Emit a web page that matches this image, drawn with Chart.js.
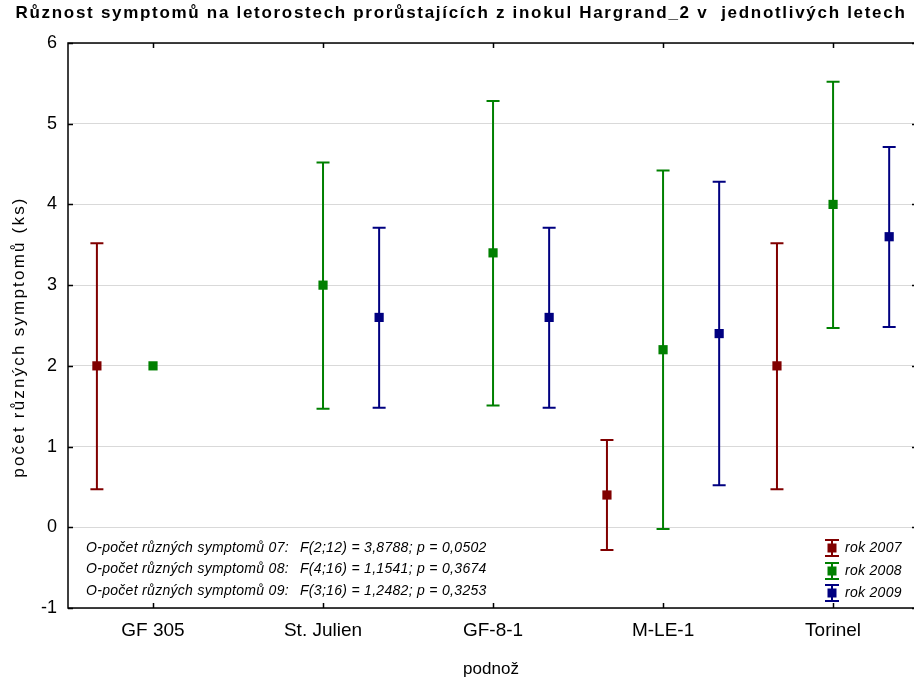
<!DOCTYPE html>
<html>
<head>
<meta charset="utf-8">
<script src="https://cdn.jsdelivr.net/npm/chart.js@4.4.1/dist/chart.umd.min.js"></script>
<style>
  html, body { margin: 0; padding: 0; background: #fff; }
  #wrap { width: 914px; height: 684px; }
</style>
</head>
<body>
<div id="wrap"><canvas id="chart"></canvas></div>
<script>
// podnože (kategorie osy x)
const rootstocks = ['GF 305', 'St. Julien', 'GF-8-1', 'M-LE-1', 'Torinel'];
const yearLabels = ['rok 2007', 'rok 2008', 'rok 2009'];
const yearColors = ['#800000', '#008000', '#000080'];

// průměry a meze intervalů (null = bez hodnoty)
const mean07 = [2.0, null, null, 0.4, 2.0];
const low07  = [0.47, null, null, -0.28, 0.47];
const high07 = [3.52, null, null, 1.08, 3.52];

const mean08 = [2.0, 3.0, 3.4, 2.2, 4.0];
const low08  = [null, 1.47, 1.51, -0.02, 2.47];
const high08 = [null, 4.52, 5.28, 4.42, 5.52];

const mean09 = [null, 2.6, 2.6, 2.4, 3.6];
const low09  = [null, 1.48, 1.48, 0.52, 2.48];
const high09 = [null, 3.71, 3.71, 4.28, 4.71];

const yTicks = [-1, 0, 1, 2, 3, 4, 5, 6];

const chartTitle = 'Různost symptomů na letorostech prorůstajících z inokul Hargrand_2 v  jednotlivých letech';
const yTitle = 'počet různých symptomů (ks)';
const xTitle = 'podnož';

const anovaNames = [
  'O-počet různých symptomů 07:',
  'O-počet různých symptomů 08:',
  'O-počet různých symptomů 09:',
];
const anovaStats = [
  'F(2;12) = 3,8788; p = 0,0502',
  'F(4;16) = 1,1541; p = 0,3674',
  'F(3;16) = 1,2482; p = 0,3253',
];

const FONT = '"Liberation Sans", Arial, sans-serif';
const series = [
  [mean07, low07, high07],
  [mean08, low08, high08],
  [mean09, low09, high09],
];

// posun roků vedle sebe v rámci jedné podnože
const groupShift = 0.33;

const datasets = series.map(([mean, lo, hi], s) => {
  const pts = [];
  mean.forEach((v, i) => {
    if (v === null) return;
    pts.push({ x: i + (s - 1) * groupShift, y: v, lo: lo[i], hi: hi[i] });
  });
  return {
    label: yearLabels[s],
    data: pts,
    borderColor: yearColors[s],
    backgroundColor: yearColors[s],
    pointStyle: 'rect',
    pointRadius: 6.5,
    pointHoverRadius: 6.5,
    pointBorderWidth: 0,
    showLine: false,
  };
});

// chybové úsečky pod body
const errorBars = {
  id: 'errorBars',
  beforeDatasetsDraw(chart) {
    const { ctx, scales: { x, y } } = chart;
    ctx.save();
    ctx.lineWidth = 2;
    chart.data.datasets.forEach(ds => {
      ctx.strokeStyle = ds.borderColor;
      ds.data.forEach(p => {
        if (p.lo == null || p.hi == null) return;
        const px = x.getPixelForValue(p.x);
        const y1 = y.getPixelForValue(p.lo);
        const y2 = y.getPixelForValue(p.hi);
        ctx.beginPath();
        ctx.moveTo(px, y1); ctx.lineTo(px, y2);
        ctx.moveTo(px - 6.5, y1); ctx.lineTo(px + 6.5, y1);
        ctx.moveTo(px - 6.5, y2); ctx.lineTo(px + 6.5, y2);
        ctx.stroke();
      });
    });
    ctx.restore();
  }
};

// rámeček grafu (vlevo, nahoře, dole) s vnitřními značkami
const frame = {
  id: 'frame',
  afterDatasetsDraw(chart) {
    const { ctx, chartArea: a, scales: { x, y } } = chart;
    ctx.save();
    ctx.strokeStyle = '#000';
    ctx.lineWidth = 1.5;
    ctx.beginPath();
    ctx.moveTo(a.right, a.top); ctx.lineTo(a.left, a.top);
    ctx.lineTo(a.left, a.bottom); ctx.lineTo(a.right, a.bottom);
    ctx.stroke();
    ctx.beginPath();
    yTicks.forEach(v => {
      const py = Math.round(y.getPixelForValue(v)) + 0.5;
      ctx.moveTo(a.left, py); ctx.lineTo(a.left + 5, py);
      ctx.moveTo(a.right, py); ctx.lineTo(a.right - 2, py);
    });
    rootstocks.forEach((_, i) => {
      const px = Math.round(x.getPixelForValue(i)) + 0.5;
      ctx.moveTo(px, a.bottom); ctx.lineTo(px, a.bottom - 5);
      ctx.moveTo(px, a.top); ctx.lineTo(px, a.top + 5);
    });
    ctx.stroke();
    ctx.restore();
  }
};

// nadpis, popisek osy y, výsledky ANOVA a legenda
const notes = {
  id: 'notes',
  afterDraw(chart) {
    const { ctx, chartArea: a } = chart;
    ctx.save();
    ctx.fillStyle = '#000';
    ctx.textBaseline = 'alphabetic';

    ctx.textAlign = 'center';
    ctx.font = 'bold 17px ' + FONT;
    ctx.letterSpacing = '1.7px';
    ctx.fillText(chartTitle, chart.width / 2 + 4, 18);

    ctx.save();
    ctx.translate(24, 337);
    ctx.rotate(-Math.PI / 2);
    ctx.font = '17px ' + FONT;
    ctx.letterSpacing = '2.2px';
    ctx.fillText(yTitle, 0, 0);
    ctx.restore();

    ctx.font = 'italic 14px ' + FONT;
    ctx.letterSpacing = '0.3px';
    ctx.textBaseline = 'middle';
    ctx.textAlign = 'left';
    const rowsY = [a.bottom - 60, a.bottom - 39, a.bottom - 17];
    anovaNames.forEach((t, i) => {
      ctx.fillText(t, a.left + 18, rowsY[i]);
      ctx.fillText(anovaStats[i], a.left + 232, rowsY[i]);
    });

    const legY = [a.bottom - 60, a.bottom - 37, a.bottom - 15];
    chart.data.datasets.forEach((ds, i) => {
      const cx = a.right - 82;
      const cy = legY[i];
      ctx.strokeStyle = ds.borderColor;
      ctx.fillStyle = ds.borderColor;
      ctx.lineWidth = 2;
      ctx.beginPath();
      ctx.moveTo(cx, cy - 8); ctx.lineTo(cx, cy + 8);
      ctx.moveTo(cx - 7, cy - 8); ctx.lineTo(cx + 7, cy - 8);
      ctx.moveTo(cx - 7, cy + 8); ctx.lineTo(cx + 7, cy + 8);
      ctx.stroke();
      ctx.fillRect(cx - 4.5, cy - 4.5, 9, 9);
      ctx.fillStyle = '#000';
      ctx.fillText(ds.label, a.right - 69, cy);
    });
    ctx.restore();
  }
};

new Chart(document.getElementById('chart'), {
  type: 'scatter',
  data: { datasets },
  plugins: [errorBars, frame, notes],
  options: {
    responsive: true,
    maintainAspectRatio: false,
    animation: false,
    layout: { autoPadding: false, padding: { top: 43, left: 0, right: 0, bottom: 0 } },
    plugins: {
      legend: { display: false },
      tooltip: { enabled: false },
      title: { display: false },
    },
    scales: {
      x: {
        type: 'linear',
        min: -0.5,
        max: 4.476,
        afterFit: s => { s.height = 76; s.paddingLeft = 0; s.paddingRight = 0; },
        afterBuildTicks: s => { s.ticks = rootstocks.map((_, i) => ({ value: i })); },
        grid: { display: false, drawTicks: false },
        border: { display: false },
        ticks: {
          autoSkip: false,
          maxRotation: 0,
          padding: 11,
          color: '#000',
          font: { family: FONT, size: 19 },
          callback: v => rootstocks[v] ?? '',
        },
        title: {
          display: true,
          text: xTitle,
          color: '#000',
          font: { family: FONT, size: 17 },
          padding: { top: 0, bottom: 4 },
        },
      },
      y: {
        min: -1,
        max: 6,
        afterFit: s => { s.width = 68; },
        afterBuildTicks: s => { s.ticks = yTicks.map(v => ({ value: v })); },
        grid: { color: '#d9d9d9', lineWidth: 1, drawTicks: false },
        border: { display: false },
        ticks: {
          padding: 11,
          color: '#000',
          font: { family: FONT, size: 18 },
        },
        title: { display: false },
      },
    },
  },
});
</script>
</body>
</html>
